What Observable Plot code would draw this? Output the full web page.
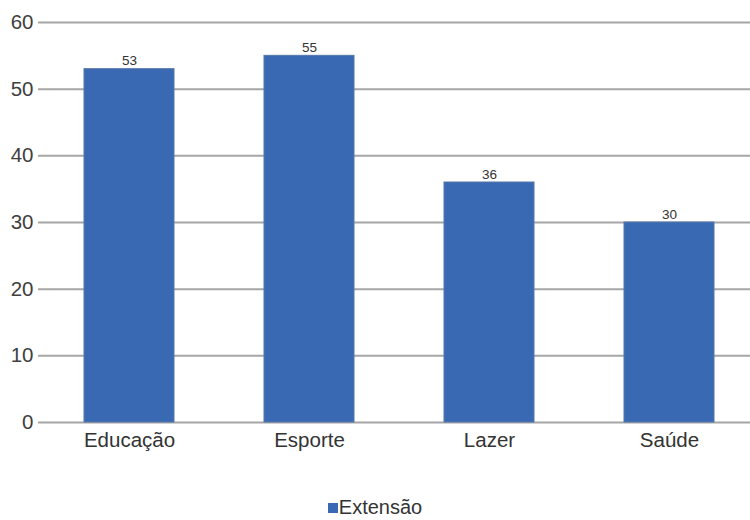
<!DOCTYPE html>
<html>
<head>
<meta charset="utf-8">
<script src="https://cdn.jsdelivr.net/npm/d3@7"></script>
<script src="https://cdn.jsdelivr.net/npm/@observablehq/plot@0.6"></script>
<style>
  body { margin: 0; background: #fff; font-family: "Liberation Sans", Arial, sans-serif; }
  #chart { position: relative; width: 750px; height: 520px; overflow: hidden; }
  #legend { position: absolute; left: 0; width: 750px; top: 498px; height: 19px; line-height: 19px; text-align: center; font-size: 20px; color: #333; }
  #legend .sw { display: inline-block; width: 10px; height: 10px; background: #3a69b4; margin-right: 1px; vertical-align: 1px; }
</style>
</head>
<body>
<div id="chart"><div id="legend"><span class="sw"></span>Extensão</div></div>
<script>
const categories = ["Educação", "Esporte", "Lazer", "Saúde"];
const values = [53, 55, 36, 30];
const seriesName = "Extensão";
const yTicks = [0, 10, 20, 30, 40, 50, 60];

const data = categories.map((c, i) => ({category: c, value: values[i]}));

const plot = Plot.plot({
  width: 750,
  height: 480,
  marginLeft: 38,
  marginRight: 0,
  marginTop: 22,
  marginBottom: 58,
  style: {fontFamily: "Liberation Sans, Arial, sans-serif", background: "#fff"},
  x: {domain: categories, range: [38, 759], paddingInner: 0.5, paddingOuter: 0.25, label: null},
  y: {domain: [0, 60], label: null},
  marks: [
    Plot.ruleY(yTicks, {stroke: "#a6a6a6", strokeWidth: 2}),
    Plot.barY(data, {x: "category", y: "value", fill: "#3a69b4", stroke: "#5677a8", strokeWidth: 1}),
    Plot.text(data, {x: "category", y: "value", text: d => String(d.value), dy: -8, fontSize: 13.5, fill: "#333"}),
    Plot.axisY({ticks: yTicks, tickSize: 0, tickPadding: 5, fontSize: 20.5, fill: "#404040"}),
    Plot.axisX({tickSize: 0, tickPadding: 10, fontSize: 20.5, fill: "#333"})
  ]
});
document.getElementById("chart").prepend(plot);
</script>
</body>
</html>
